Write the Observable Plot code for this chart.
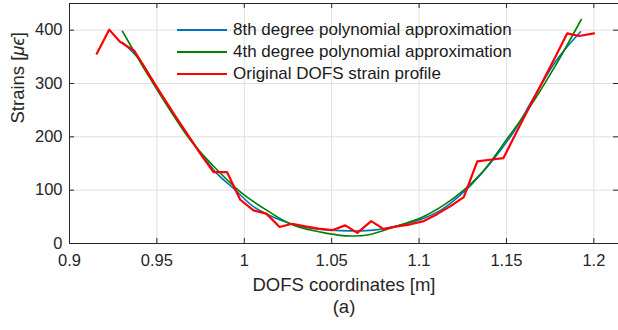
<!DOCTYPE html>
<html><head><meta charset="utf-8">
<script src="https://cdn.jsdelivr.net/npm/d3@7"></script>
<script src="https://cdn.jsdelivr.net/npm/@observablehq/plot@0.6"></script>
<style>
body{margin:0;background:#fff;font-family:"Liberation Sans",Arial,sans-serif;}
#wrap{position:relative;width:618px;height:330px;overflow:hidden;}
.leg{position:absolute;left:177px;height:22px;line-height:22px;font-size:17px;color:#1a1a1a;white-space:nowrap;}
.sw{position:absolute;left:0;width:50px;}
.lt{position:absolute;left:56px;top:0;}
</style></head><body><div id="wrap"></div>
<script>
const xTicks = [0.9, 0.95, 1, 1.05, 1.1, 1.15, 1.2];
const yTicks = [0, 100, 200, 300, 400];
const xTickLabels = ["0.9", "0.95", "1", "1.05", "1.1", "1.15", "1.2"];
const seriesNames = ["8th degree polynomial approximation", "4th degree polynomial approximation", "Original DOFS strain profile"];
const seriesColors = ["#0072BD", "#008000", "#FF0000"];

const poly8X = [0.9303,0.9404,0.9519,0.9673,0.9844,0.9937,1.0053,1.0206,1.0338,1.0493,1.0607,1.0739,1.0932,1.1008,1.1122,1.1237,1.1295,1.1409,1.1541,1.1648,1.1787,1.1924];
const poly8Y = [377,343,281,205,131,104,69,44,31,25,23.6,25,37.5,45,62,91,109,151,209,269,344,397];

const poly4X = [0.9303,0.9462,0.9691,0.9830,0.9977,1.0130,1.0282,1.0474,1.0607,1.0721,1.0874,1.1008,1.1141,1.1256,1.1370,1.1512,1.1638,1.1781,1.1928];
const poly4Y = [398,309,194,143,97,62,34,19,14,17,33,48,72,100,137,200,258,334,420];

const origX = [0.9156,0.9227,0.9290,0.9372,0.9447,0.9523,0.9599,0.9676,0.9751,0.9824,0.9901,0.9977,1.0053,1.0126,1.0202,1.0273,1.0349,1.0424,1.0502,1.0578,1.0647,1.0726,1.0798,1.0874,1.0951,1.1027,1.1103,1.1180,1.1256,1.1333,1.1406,1.1482,1.1555,1.1628,1.1701,1.1775,1.1848,1.1915,1.2001];
const origY = [356,401,378,361,321,281,242,204,167,134,134,82,62,56,31,37,32,28,25,34,20,42,27,32,36,42,55,70,87,154,157,160,207,254,300,347,394,389,394];

const toRows = (xs, ys) => xs.map((x, i) => ({x, y: ys[i]}));
const d8 = toRows(poly8X, poly8Y);
const d4 = toRows(poly4X, poly4Y);
const d0 = toRows(origX, origY);

const axisColor = "#262626";
const gridColor = "#e0e0e0";
const widths = [1.6, 1.6, 2.2];

const chart = Plot.plot({
  width: 618, height: 330,
  marginLeft: 69, marginRight: 0, marginTop: 3, marginBottom: 87,
  x: {domain: [0.9, 1.2141]},
  y: {domain: [0, 450]},
  style: {fontFamily: '"Liberation Sans", Arial, sans-serif', fontSize: "16.5px", color: axisColor, background: "white"},
  marks: [
    Plot.gridX({ticks: xTicks, stroke: gridColor, strokeOpacity: 1}),
    Plot.gridY({ticks: yTicks, stroke: gridColor, strokeOpacity: 1}),
    Plot.line(d8, {x: "x", y: "y", stroke: seriesColors[0], strokeWidth: widths[0], curve: "catmull-rom"}),
    Plot.line(d4, {x: "x", y: "y", stroke: seriesColors[1], strokeWidth: widths[1], curve: "catmull-rom"}),
    Plot.line(d0, {x: "x", y: "y", stroke: seriesColors[2], strokeWidth: widths[2]}),
    Plot.ruleY([0], {stroke: axisColor}),
    Plot.ruleY([450], {stroke: axisColor}),
    Plot.ruleX([0.9], {stroke: axisColor}),
    Plot.tickX(xTicks, {x: d => d, insetTop: 235, stroke: axisColor}),
    Plot.tickX(xTicks, {x: d => d, insetBottom: 235, stroke: axisColor}),
    Plot.tickY(yTicks, {y: d => d, insetRight: 544, stroke: axisColor}),
    Plot.tickY(yTicks, {y: d => d, insetLeft: 544, stroke: axisColor}),
    Plot.axisX({ticks: xTicks, tickSize: 0, tickPadding: 11, tickFormat: d => xTickLabels[xTicks.indexOf(d)], label: null, fontSize: 16.5}),
    Plot.axisY({ticks: yTicks, tickSize: 0, tickPadding: 7, tickFormat: d => String(d), label: null, fontSize: 16.5}),
    Plot.text(["DOFS coordinates [m]"], {text: d => d, frameAnchor: "bottom", dy: 42, lineAnchor: "middle", fontSize: 18.5}),
    Plot.text(["(a)"], {text: d => d, frameAnchor: "bottom", dy: 64, lineAnchor: "middle", fontSize: 18.5}),
    Plot.text(["Strains [με]"], {text: d => d, frameAnchor: "left", dx: -51, rotate: -90, lineAnchor: "middle", fontSize: 18.5})
  ]
});

// italic Greek in y label
chart.querySelectorAll("text").forEach(t => {
  if (t.textContent === "Strains [με]") {
    t.textContent = "";
    const a = document.createElementNS("http://www.w3.org/2000/svg", "tspan"); a.textContent = "Strains [";
    const b = document.createElementNS("http://www.w3.org/2000/svg", "tspan"); b.textContent = "μϵ"; b.setAttribute("font-style", "italic");
    const c = document.createElementNS("http://www.w3.org/2000/svg", "tspan"); c.textContent = "]";
    t.append(a, b, c);
  }
});

const wrap = document.getElementById("wrap");
wrap.appendChild(chart);
const rowTops = [30, 52, 74];
seriesNames.forEach((name, i) => {
  const row = document.createElement("div");
  row.className = "leg";
  row.style.top = (rowTops[i] - 11) + "px";
  const sw = document.createElement("div");
  sw.className = "sw";
  const h = i === 2 ? 2.5 : 2;
  sw.style.height = h + "px";
  sw.style.top = (11 - h / 2) + "px";
  sw.style.background = seriesColors[i];
  const lt = document.createElement("span");
  lt.className = "lt";
  lt.textContent = name;
  row.append(sw, lt);
  wrap.appendChild(row);
});
</script></body></html>
